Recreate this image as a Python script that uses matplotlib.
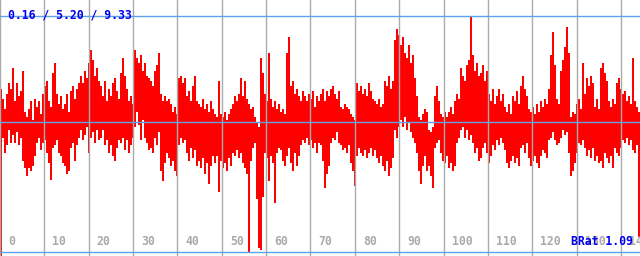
import numpy as np
import matplotlib
matplotlib.use("Agg")
import matplotlib.pyplot as plt

# ---- data ----
x_max = 144.3
tick_values = list(range(0, 150, 10))
stat_min, stat_mean, stat_max = 0.16, 5.20, 9.33
brat_text = "BRat 1.09"

high = [
    6.5, 6.1, 5.7, 6.3, 6.7, 6.5, 7.3, 6.0, 6.7, 6.2,
    6.4, 7.2, 5.6, 5.4, 5.7, 6.0, 5.3, 6.1, 5.8, 6.0,
    5.5, 6.3, 6.6, 6.8, 6.0, 5.8, 7.1, 7.5, 6.3, 5.9,
    6.2, 5.7, 5.9, 6.3, 5.6, 6.4, 6.6, 6.1, 6.5, 6.7,
    7.0, 6.7, 7.2, 6.9, 7.5, 8.0, 7.6, 7.0, 7.3, 6.8,
    6.6, 6.2, 6.8, 6.0, 6.5, 6.2, 6.7, 6.9, 6.4, 6.1,
    7.1, 7.7, 7.0, 6.5, 6.0, 6.2, 5.9, 8.0, 7.7, 7.5,
    7.8, 7.2, 7.5, 7.0, 6.9, 6.8, 6.6, 7.2, 7.4, 7.9,
    6.3, 6.0, 6.2, 6.0, 6.1, 5.9, 5.6, 5.8, 5.5, 6.9,
    7.0, 6.7, 6.9, 6.2, 6.4, 6.0, 6.6, 7.0, 6.0, 5.9,
    5.8, 6.1, 5.7, 5.9, 5.6, 6.0, 5.7, 5.5, 5.4, 6.8,
    5.5, 5.4, 5.6, 5.3, 5.5, 5.7, 5.9, 6.2, 6.0, 6.3,
    6.9, 6.2, 6.8, 6.1, 5.9, 5.7, 5.8, 5.4, 5.2, 5.0,
    7.7, 7.1, 6.3, 6.0, 7.9, 6.1, 5.8, 6.0, 5.7, 5.9,
    5.6, 5.7, 5.5, 7.9, 8.5, 6.6, 6.8, 6.3, 6.5, 6.2,
    6.0, 6.4, 6.2, 6.0, 6.3, 6.1, 6.4, 5.8, 6.2, 6.0,
    6.3, 6.5, 6.0, 6.4, 6.2, 6.5, 6.6, 6.3, 6.1, 6.4,
    5.8, 5.7, 5.9, 5.8, 5.7, 5.5, 5.4, 5.3, 6.7, 6.4,
    6.6, 6.3, 6.5, 6.2, 6.7, 6.4, 6.1, 6.0, 5.9, 6.1,
    5.8, 5.9, 6.8, 6.6, 7.0, 6.5, 6.8, 8.4, 8.8, 8.6,
    8.2, 8.5, 7.9, 7.7, 8.2, 7.5, 7.8, 6.9, 6.2, 5.4,
    5.3, 5.5, 5.7, 5.6, 4.9, 4.8, 5.0, 6.2, 6.6, 6.0,
    5.5, 5.4, 5.6, 5.4, 5.6, 5.8, 5.5, 6.0, 6.3, 6.1,
    7.3, 7.0, 6.8, 7.4, 7.6, 9.33, 7.8, 7.2, 7.5, 7.0,
    7.1, 7.4, 6.8, 7.2, 6.3, 6.0, 6.5, 5.9, 6.2, 6.5,
    6.0, 6.3, 5.8, 5.6, 5.9, 5.5, 6.2, 6.0, 6.4, 5.9,
    6.6, 7.0, 6.5, 6.2, 5.7, 5.6, 5.8, 5.5, 5.9, 5.6,
    6.0, 5.8, 6.1, 5.9, 6.5, 7.8, 8.7, 7.4, 6.1, 5.9,
    7.2, 7.6, 8.1, 8.9, 7.9, 5.4, 5.6, 5.5, 5.9, 6.1,
    5.7, 7.5, 6.3, 6.9, 6.6, 7.0, 6.7, 5.8, 6.1, 5.7,
    7.3, 7.5, 7.1, 6.8, 6.0, 5.8, 6.1, 5.9, 6.7, 6.9,
    6.5, 6.3, 6.4, 6.0, 6.2, 5.9, 7.7, 6.0, 5.8, 5.6,
]

low = [
    0.0, 4.6, 4.0, 4.3, 4.9, 4.4, 4.7, 4.4, 4.8, 4.3,
    4.6, 3.7, 3.4, 3.1, 3.4, 3.3, 3.5, 3.9, 4.4, 4.6,
    4.1, 4.4, 4.5, 4.0, 3.6, 2.95, 4.2, 4.3, 4.5, 4.0,
    3.9, 3.6, 3.5, 3.2, 3.3, 4.2, 4.4, 3.7, 4.3, 4.6,
    4.9, 4.5, 4.7, 5.0, 4.0, 4.6, 4.8, 4.4, 4.9, 4.5,
    4.6, 4.9, 4.3, 4.5, 4.0, 4.3, 3.9, 3.7, 4.2, 4.5,
    4.4, 4.6, 4.1, 4.5, 4.0, 4.3, 4.6, 5.0, 5.6, 5.1,
    4.5, 5.3, 4.6, 4.4, 4.1, 4.2, 4.0, 4.6, 4.3, 4.8,
    3.3, 2.9, 3.6, 4.0, 3.8, 3.5, 3.7, 3.3, 3.1, 4.3,
    4.6, 4.4, 4.5, 4.0, 3.7, 4.2, 3.8, 4.1, 3.5, 3.7,
    3.4, 3.8, 3.2, 3.6, 2.8, 3.5, 3.9, 3.6, 3.9, 2.5,
    3.7, 3.4, 3.6, 3.3, 3.8, 3.5, 4.0, 3.9, 4.1, 3.8,
    4.0, 3.6, 3.4, 3.2, 0.16, 3.7, 4.2, 4.4, 2.2, 0.3,
    0.25, 2.3, 4.0, 3.8, 2.9, 3.9, 3.6, 2.05, 4.0, 4.2,
    4.1, 3.7, 3.5, 3.9, 4.2, 3.6, 3.3, 4.0, 3.5, 3.9,
    4.3, 4.5, 4.4, 4.6, 4.3, 4.5, 4.2, 4.4, 4.0, 4.4,
    4.3, 3.7, 2.65, 3.2, 3.5, 4.4, 4.6, 4.5, 4.8, 4.4,
    4.3, 4.1, 4.2, 4.0, 4.3, 3.6, 3.3, 2.7, 3.9, 4.2,
    4.0, 3.9, 4.1, 3.8, 4.0, 4.2, 3.9, 4.1, 3.8, 3.6,
    3.9, 3.5, 3.3, 3.7, 3.1, 3.4, 3.8, 4.9, 4.6, 5.0,
    5.3, 5.0, 5.4, 4.9, 5.2, 4.8, 4.6, 4.4, 4.0, 3.3,
    2.8, 3.5, 3.9, 3.3, 3.5, 3.1, 2.65, 4.2, 4.4, 4.5,
    4.0, 3.7, 3.6, 3.9, 3.4, 3.6, 3.3, 3.5, 4.4, 4.6,
    4.9, 5.0, 4.6, 4.9, 4.5, 4.7, 4.4, 4.0, 4.2, 3.7,
    3.8, 4.2, 4.4, 4.0, 3.6, 3.9, 4.3, 4.1, 4.5, 4.3,
    4.6, 4.4, 4.1, 3.6, 3.4, 3.7, 3.9, 3.6, 3.8, 3.5,
    4.2, 4.3, 4.0, 4.4, 3.8, 3.5, 3.7, 3.9, 3.6, 3.4,
    3.9, 4.1, 4.0, 3.8, 4.5, 4.6, 4.8, 4.5, 4.3, 4.4,
    4.6, 4.9, 4.7, 4.8, 4.0, 3.1, 3.3, 3.6, 4.0, 4.4,
    4.3, 4.5, 4.2, 3.9, 4.1, 3.8, 4.2, 3.7, 3.9, 3.6,
    3.7, 3.4, 4.0, 3.8, 3.6, 3.9, 3.4, 4.2, 4.0, 3.9,
    4.2, 4.5, 4.4, 4.6, 4.3, 4.5, 4.1, 4.0, 4.3, 0.73,
]

# ---- figure ----
n = len(high)
step = x_max / n
xs = np.arange(n) * step
hi = np.array(high)
lo = np.array(low)

fig = plt.figure(figsize=(6.4, 2.56), dpi=100)
ax = fig.add_axes([0, 0, 1, 1])
ax.set_xlim(0, x_max)
ax.set_ylim(0, 9.94)
ax.axis("off")

ax.bar(xs, hi - lo, bottom=lo, width=step, align="edge",
       color="#ff0000", linewidth=0, antialiased=False, zorder=2)

grid_col = "#aaaaaa"
for v in tick_values:
    ax.axvline(v, color=grid_col, linewidth=1.0, zorder=3)
    ax.annotate(str(v), xy=(v, 0), xycoords=("data", "axes fraction"),
                xytext=(8, 11), textcoords="offset pixels",
                ha="left", va="baseline", color=grid_col,
                fontfamily="DejaVu Sans Mono", fontweight="bold",
                fontsize=8.3, zorder=4, annotation_clip=False)

line_col = "#5fa2e8"
for s in (stat_min, stat_mean, stat_max):
    ax.axhline(s, color=line_col, linewidth=1.0, zorder=4)

ax.annotate(f"{stat_min:.2f} / {stat_mean:.2f} / {stat_max:.2f}",
            xy=(0, 1), xycoords="axes fraction",
            xytext=(8, -19), textcoords="offset pixels",
            ha="left", va="baseline", color="#0000ee",
            fontfamily="DejaVu Sans Mono", fontweight="bold",
            fontsize=8.3, zorder=5)

ax.annotate(brat_text, xy=(1, 0), xycoords="axes fraction",
            xytext=(-7, 11), textcoords="offset pixels",
            ha="right", va="baseline", color="#0000ee",
            fontfamily="DejaVu Sans Mono", fontweight="bold",
            fontsize=8.3, zorder=5)

fig.savefig("out.png", dpi=100, facecolor="white")
